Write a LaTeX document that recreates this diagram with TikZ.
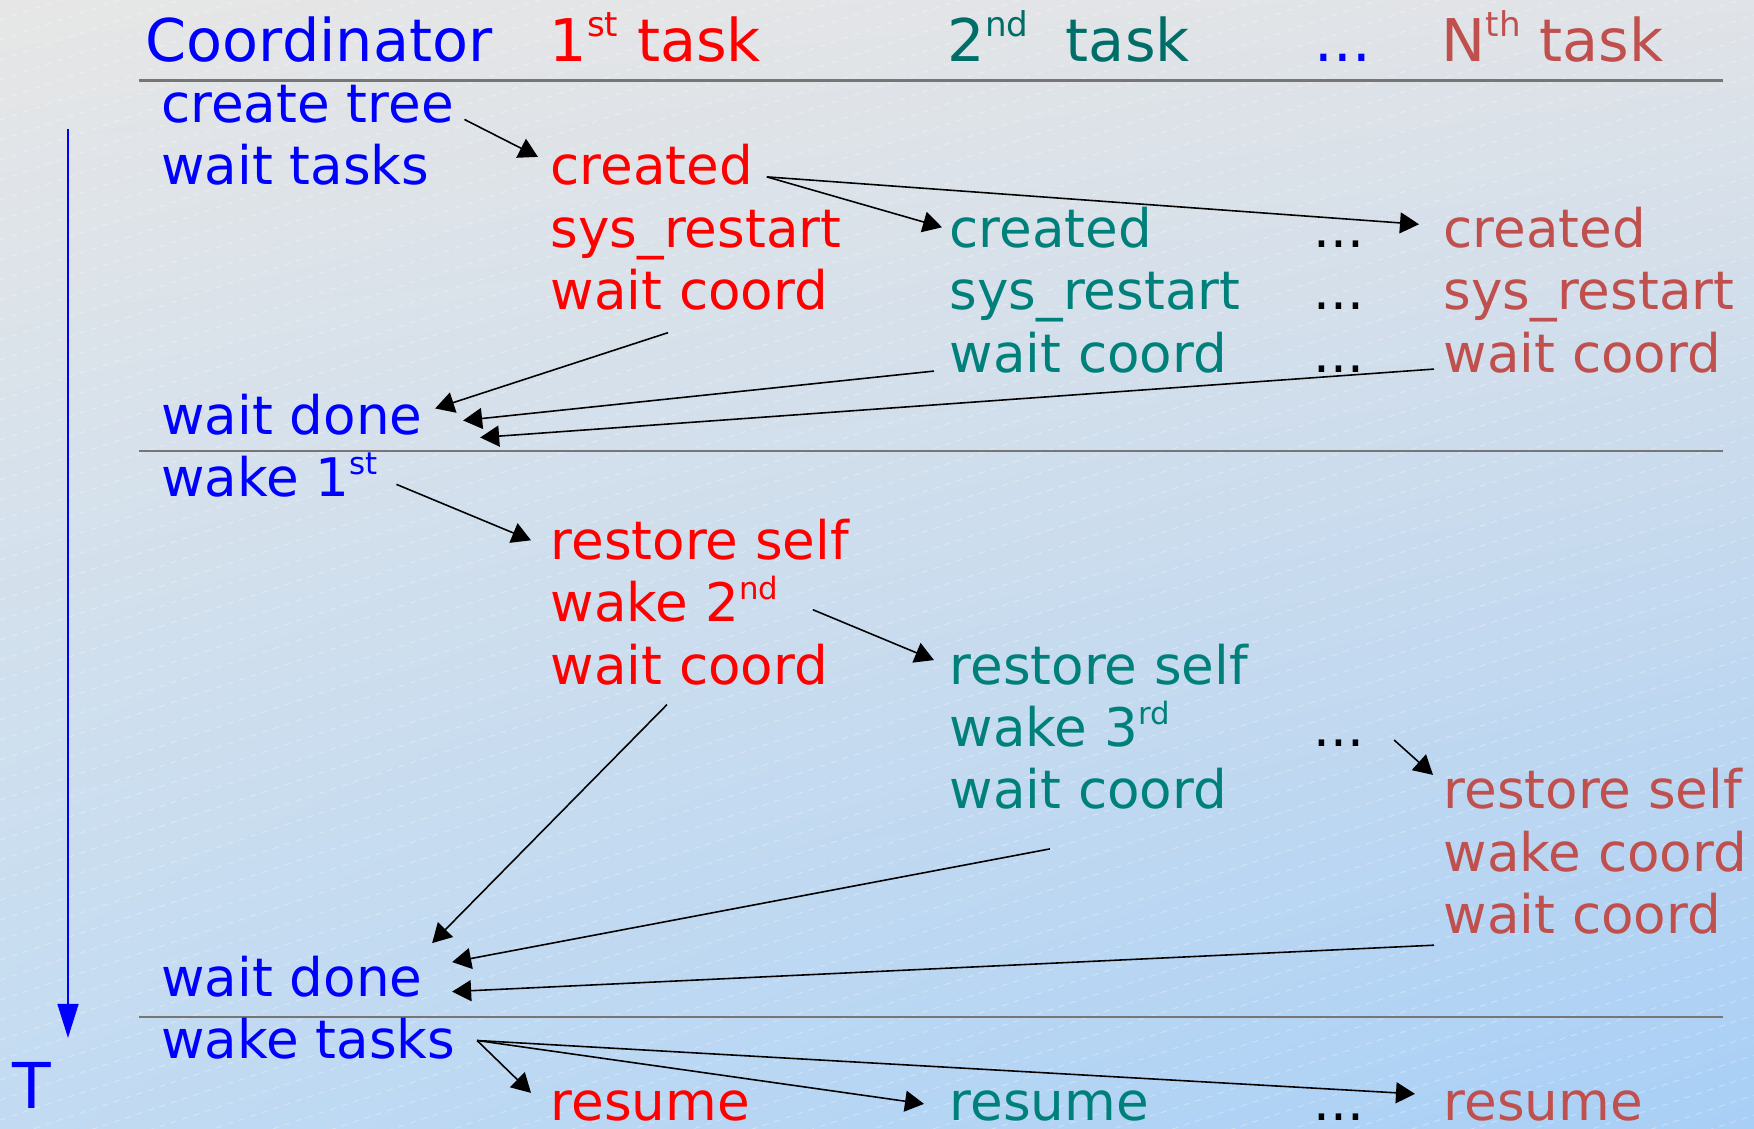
\documentclass[tikz,border=0pt]{standalone}
\usepackage{fontspec}
\usepackage{graphicx}
\setmainfont{DejaVu Sans}
\usetikzlibrary{arrows.meta, shadings}

\definecolor{coordblue}{RGB}{0,0,255}
\definecolor{firstred}{RGB}{255,0,0}
\definecolor{secondteal}{RGB}{0,128,122}
\definecolor{secondhead}{RGB}{0,110,104}
\definecolor{lastred}{RGB}{192,80,77}
\definecolor{rulegray}{RGB}{118,118,118}
\definecolor{bgul}{RGB}{230,230,230}
\definecolor{bgur}{RGB}{224,227,231}
\definecolor{bgll}{RGB}{194,219,242}
\definecolor{bglr}{RGB}{168,207,246}

\newcommand{\ordsup}[1]{\raisebox{.42em}{\scalebox{.58}{#1}}}

\tikzset{
  head/.style={anchor=base west, inner sep=0pt, font=\fontsize{16.75}{20}\selectfont},
  txt/.style={anchor=base west, inner sep=0pt, font=\fontsize{15.12}{18}\selectfont},
  msg/.style={draw=black, line width=0.45pt, -{Triangle[length=1.9mm,width=2.1mm]}},
  rule/.style={draw=rulegray, line width=0.6pt},
  texture/.style={draw=white, opacity=0.3, line width=0.3pt, dash pattern=on 0.6mm off 0.6mm}
}

\begin{document}
\begin{tikzpicture}[x=1cm, y=-6.24mm]

        \useasboundingbox (0,-1.963) rectangle (17.54,16.13);
        \shade[upper left=bgul, upper right=bgur, lower left=bgll, lower right=bglr]
            (0,-1.963) rectangle (17.54,16.13);
        \begin{scope}
            \clip (0,-1.963) rectangle (17.54,16.13);
            \foreach \i in {0,...,90}
                \draw[texture] (0cm,{1.225cm-\i*2mm}) -- ++(17.54cm,5.85cm);
        \end{scope}

        \coordinate (t0) at (0.68,0.104);
        \coordinate (t1) at (0.68,14.67);
        \draw[coordblue, line width=0.4pt, -{Triangle[length=3.4mm,width=2.1mm]}] (t0) -- (t1);
        \node[coordblue, anchor=base, inner sep=0pt, font=\fontsize{18}{20}\selectfont] (T) at (0.32,15.8) {T};

        \node[head, coordblue]  (hc) at (1.45,-0.978) {Coordinator};
        \node[head, firstred]   (h1) at (5.49,-0.978) {1\ordsup{st} task};
        \node[head, secondhead] (h2) at (9.47,-0.978) {2\ordsup{nd}\ \ task};
        \node[head, coordblue]  (hd) at (13.14,-0.978) {...};
        \node[head, lastred]    (hn) at (14.41,-0.978) {N\ordsup{th} task};

        \draw[rule] (1.39,-0.673) -- (17.23,-0.673);
        \draw[rule] (1.39,5.264) -- (17.23,5.264);
        \draw[rule] (1.39,14.33) -- (17.23,14.33);

        \node[txt, coordblue] (c0)  at (1.606,0)  {create tree};
        \node[txt, coordblue] (c1)  at (1.606,1)  {wait tasks};
        \node[txt, coordblue] (c5)  at (1.606,5)  {wait done};
        \node[txt, coordblue] (c6)  at (1.606,6)  {wake 1\ordsup{st}};
        \node[txt, coordblue] (c14) at (1.606,14) {wait done};
        \node[txt, coordblue] (c15) at (1.606,15) {wake tasks};

        \node[txt, firstred] (a1)  at (5.50,1)  {created};
        \node[txt, firstred] (a2)  at (5.50,2)  {sys\_restart};
        \node[txt, firstred] (a3)  at (5.50,3)  {wait coord};
        \node[txt, firstred] (a7)  at (5.50,7)  {restore self};
        \node[txt, firstred] (a8)  at (5.50,8)  {wake 2\ordsup{nd}};
        \node[txt, firstred] (a9)  at (5.50,9)  {wait coord};
        \node[txt, firstred] (a16) at (5.50,16) {resume};

        \node[txt, secondteal] (b2)  at (9.49,2)  {created};
        \node[txt, secondteal] (b3)  at (9.49,3)  {sys\_restart};
        \node[txt, secondteal] (b4)  at (9.49,4)  {wait coord};
        \node[txt, secondteal] (b9)  at (9.49,9)  {restore self};
        \node[txt, secondteal] (b10) at (9.49,10) {wake 3\ordsup{rd}};
        \node[txt, secondteal] (b11) at (9.49,11) {wait coord};
        \node[txt, secondteal] (b16) at (9.49,16) {resume};

        \node[txt] (d2)  at (13.13,2)  {...};
        \node[txt] (d3)  at (13.13,3)  {...};
        \node[txt] (d4)  at (13.13,4)  {...};
        \node[txt] (d10) at (13.13,10) {...};
        \node[txt] (d16) at (13.13,16) {...};

        \node[txt, lastred] (n2)  at (14.43,2)  {created};
        \node[txt, lastred] (n3)  at (14.43,3)  {sys\_restart};
        \node[txt, lastred] (n4)  at (14.43,4)  {wait coord};
        \node[txt, lastred] (n11) at (14.43,11) {restore self};
        \node[txt, lastred] (n12) at (14.43,12) {wake coord};
        \node[txt, lastred] (n13) at (14.43,13) {wait coord};
        \node[txt, lastred] (n16) at (14.43,16) {resume};

        \draw[msg] ([shift={(1.0mm,0.3mm)}]c0.base east) -- ([shift={(-1.2mm,2.8mm)}]a1.base west);
        \draw[msg] ([shift={(1.3mm,0.8mm)}]a1.base east) -- ([shift={(-0.7mm,2.0mm)}]b2.base west);
        \draw[msg] ([shift={(1.3mm,0.8mm)}]a1.base east) -- ([shift={(-2.4mm,2.3mm)}]n2.base west);

        \draw[msg] ([shift={(11.8mm,-2.3mm)}]a3.base west) -- ([shift={(1.2mm,2.6mm)}]c5.base east);
        \draw[msg] ([shift={(-1.5mm,0.1mm)}]b4.base west) -- ([shift={(4.0mm,1.4mm)}]c5.base east);
        \draw[msg] ([shift={(-0.9mm,0.3mm)}]n4.base west) -- ([shift={(5.7mm,-0.3mm)}]c5.base east);

        \draw[msg] ([shift={(1.8mm,1.25mm)}]c6.base east) -- ([shift={(-1.9mm,1.9mm)}]a7.base west);
        \draw[msg] ([shift={(3.4mm,1.2mm)}]a8.base east) -- ([shift={(-1.5mm,2.4mm)}]b9.base west);
        \draw[msg] ([shift={(2.9mm,0.65mm)}]d10.base east) -- ([shift={(-1.0mm,3.4mm)}]n11.base west);

        \draw[msg] ([shift={(11.7mm,-2.05mm)}]a9.base west) -- ([shift={(0.9mm,5.3mm)}]c14.base east);
        \draw[msg] ([shift={(10.1mm,-4.0mm)}]b11.base west) -- ([shift={(2.9mm,3.4mm)}]c14.base east);
        \draw[msg] ([shift={(-0.9mm,-1.15mm)}]n13.base west) -- ([shift={(2.9mm,0.45mm)}]c14.base east);

        \draw[msg] ([shift={(2.1mm,1.8mm)}]c15.base east) -- ([shift={(-1.9mm,2.8mm)}]a16.base west);
        \draw[msg] ([shift={(2.1mm,1.8mm)}]c15.base east) -- ([shift={(-2.5mm,1.7mm)}]b16.base west);
        \draw[msg] ([shift={(2.1mm,1.8mm)}]c15.base east) -- ([shift={(-2.8mm,2.7mm)}]n16.base west);

\end{tikzpicture}
\end{document}
